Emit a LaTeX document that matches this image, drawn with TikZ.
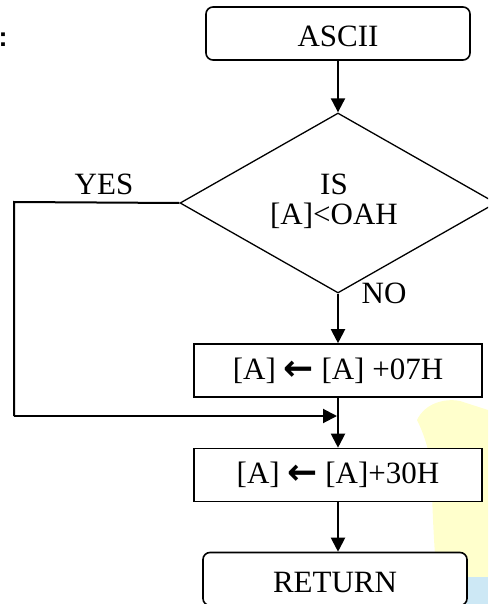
\documentclass[tikz,border=0pt]{standalone}
\usepackage{fontspec}
\setmainfont{Liberation Serif}
\newfontfamily\headsans{Liberation Sans}
\newfontfamily\arrowfont{DejaVu Sans}
\usetikzlibrary{shapes.geometric,arrows.meta}
\definecolor{paleyellow}{HTML}{FFFFCC}
\definecolor{paleblue}{HTML}{CDE8F5}
\newcommand{\getsarrow}{{\arrowfont\bfseries\fontsize{36}{33}\selectfont\raisebox{-1pt}{←}}}
\newcommand{\lowtext}[1]{\raisebox{-3pt}[\height][\depth]{#1}}
\begin{document}
\begin{tikzpicture}[x=1pt,y=-1pt,
  every node/.style={font=\fontsize{31}{33}\selectfont, inner sep=0pt},
  terminal/.style={draw, line width=1.6pt, rounded corners=7pt, fill=white,
    minimum width=264pt, minimum height=53pt},
  process/.style={draw, line width=1.6pt, fill=white,
    minimum width=288pt, minimum height=53pt},
  decision/.style={draw, line width=1.3pt, diamond, aspect=1.756, fill=white,
    minimum width=316pt, minimum height=180pt},
  flow/.style={line width=2pt, -{Triangle[length=14pt,width=14pt]}},
  plainline/.style={line width=2pt}]
\useasboundingbox (0,0) rectangle (488,604);
\clip (0,0) rectangle (488,604);

% backdrop shapes on the right
\fill[paleyellow] (417,420) .. controls (425,403) and (445,398) .. (460,401)
  -- (488,410) -- (488,577) -- (437,577)
  .. controls (433,540) and (432,490) .. (431,465)
  .. controls (428,445) and (422,430) .. (417,420) -- cycle;
\fill[paleblue] (440,577) rectangle (488,604);

% heading punctuation
\node[font=\headsans\bfseries\fontsize{27}{27}\selectfont, anchor=base west] (colon) at (-1.5,47) {:};

% flowchart blocks
\node[terminal] (start) at (338,33.5) {\lowtext{ASCII}};
\node[decision] (test) at (338,203) {};
\node (testA) at (334,184) {IS};
\node (testB) at (334,216) {[A]<OAH};
\node[process] (add7) at (338,370.5) {[A] \getsarrow{} [A] +07H};
\node[process] (add30) at (338,475) {[A] \getsarrow{} [A]+30H};
\node[terminal] (done) at (335,579) {\lowtext{RETURN}};

% branch labels
\node (yes) at (104,184) {YES};
\node (no) at (384,293) {NO};

% connectors
\coordinate (yesA) at (14,202);
\coordinate (yesB) at (14,416);
\coordinate (merge) at (338,416);
\draw[flow] (start.south) -- (test.north);
\draw[flow] (test.south) -- (add7.north);
\draw[flow] (add7.south) -- (add30.north);
\draw[flow] (add30.south) -- (add30.south |- done.north);
\draw[plainline] (test.west) -- (yesA) -- (yesB);
\draw[flow] (yesB) -- ([xshift=-1pt]merge);
\end{tikzpicture}
\end{document}
